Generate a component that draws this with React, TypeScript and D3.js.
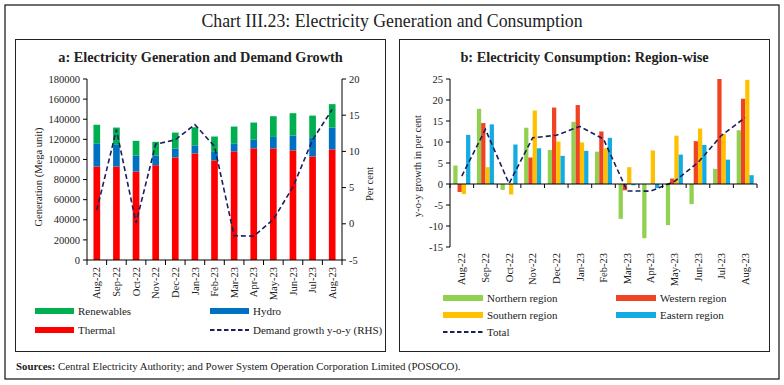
import * as d3 from "d3";
import * as React from "react";

const months = [
  "Aug-22", "Sep-22", "Oct-22", "Nov-22", "Dec-22", "Jan-23", "Feb-23",
  "Mar-23", "Apr-23", "May-23", "Jun-23", "Jul-23", "Aug-23",
];

// panel a: generation (mega unit)
const thermal = [93000, 93000, 88000, 94300, 102000, 106000, 99000, 108000, 111000, 111000, 109000, 103000, 110000];
const hydro = [23000, 21500, 16000, 9700, 9000, 8000, 8500, 8000, 9000, 11400, 14800, 19000, 21700];
const renewables = [18500, 17200, 14500, 13500, 15700, 18000, 15300, 16700, 16700, 20600, 22200, 21600, 23300];
const demandGrowth = [1.9, 13.0, 0.1, 11.0, 11.6, 13.7, 10.7, -1.65, -1.7, 0.6, 5.1, 11.6, 15.8];

// panel b: y-o-y growth by region
const regions = ["Northern region", "Western region", "Southern region", "Eastern region"];
const northern = [4.4, 17.9, -1.4, 13.4, 8.1, 14.8, 7.7, -8.3, -12.9, -9.8, -4.8, 3.6, 12.8];
const western = [-1.9, 14.5, 0, 6.3, 18.2, 18.8, 12.5, -1.5, 0, 1.3, 10.2, 25.0, 20.3];
const southern = [-2.4, 4.0, -2.5, 17.5, 10.1, 9.9, 8.5, 4.0, 8.0, 11.5, 13.2, 11.9, 24.8];
const eastern = [11.7, 14.2, 9.4, 8.5, 6.7, 7.9, 11.0, -0.3, -1.0, 7.0, 9.3, 5.8, 2.1];
const totalGrowth = demandGrowth;

const leftTicks = [0, 20000, 40000, 60000, 80000, 100000, 120000, 140000, 160000, 180000];
const rightTicks = [-5, 0, 5, 10, 15, 20];
const bTicks = [-15, -10, -5, 0, 5, 10, 15, 20, 25];

const FONT = "'Liberation Serif', 'DejaVu Serif', serif";
const LINE = "#1b1f5e";

function PanelA() {
  const x = d3.scaleBand<string>().domain(months).range([87, 342]);
  const yL = d3.scaleLinear().domain([0, 180000]).range([260, 79]);
  const yR = d3.scaleLinear().domain([-5, 20]).range([260, 79]);
  const bw = x.bandwidth() * 0.34;
  const cx = (m: string) => (x(m) as number) + x.bandwidth() / 2;
  const line = d3
    .line<number>()
    .x((d, i) => cx(months[i]))
    .y((d) => yR(d));

  const stacks = months.map((m, i) => [
    { key: "t", y0: 0, y1: thermal[i], c: "#ff0000" },
    { key: "h", y0: thermal[i], y1: thermal[i] + hydro[i], c: "#0070c0" },
    { key: "r", y0: thermal[i] + hydro[i], y1: thermal[i] + hydro[i] + renewables[i], c: "#00b050" },
  ]);

  return (
    <g>
      {stacks.map((s, i) =>
        s.map((p) => (
          <rect
            key={months[i] + p.key}
            x={cx(months[i]) - bw / 2}
            width={bw}
            y={yL(p.y1)}
            height={yL(p.y0) - yL(p.y1)}
            fill={p.c}
          />
        ))
      )}
      <path d={line(demandGrowth) || ""} fill="none" stroke={LINE} strokeWidth={1.6} strokeDasharray="5,3" />
      {/* left axis */}
      <line x1={87} x2={87} y1={79} y2={260} stroke="#000" />
      {leftTicks.map((t) => (
        <g key={"l" + t}>
          <line x1={83} x2={87} y1={yL(t)} y2={yL(t)} stroke="#000" />
          <text x={80} y={yL(t)} dy="0.35em" textAnchor="end" fontSize={10.5}>{t}</text>
        </g>
      ))}
      {/* right axis */}
      <line x1={342} x2={342} y1={79} y2={260} stroke="#000" />
      {rightTicks.map((t) => (
        <g key={"r" + t}>
          <line x1={342} x2={346} y1={yR(t)} y2={yR(t)} stroke="#000" />
          <text x={349} y={yR(t)} dy="0.35em" fontSize={10.5}>{t}</text>
        </g>
      ))}
      {/* x axis */}
      <line x1={87} x2={342} y1={260} y2={260} stroke="#000" />
      {months.map((m) => (
        <line key={"xt" + m} x1={x(m) as number} x2={x(m) as number} y1={260} y2={265} stroke="#000" />
      ))}
      <line x1={342} x2={342} y1={260} y2={265} stroke="#000" />
      {months.map((m) => (
        <text
          key={"xl" + m}
          transform={`translate(${cx(m)},267) rotate(-90)`}
          textAnchor="end"
          dy="0.35em"
          fontSize={10.5}
        >
          {m}
        </text>
      ))}
      <text transform="translate(38,177) rotate(-90)" textAnchor="middle" dy="0.35em" fontSize={10.5}>
        Generation  (Mega unit)
      </text>
      <text transform="translate(369,184) rotate(-90)" textAnchor="middle" dy="0.35em" fontSize={10.5}>
        Per cent
      </text>
      {/* legend */}
      <rect x={35} y={308} width={39} height={6} fill="#00b050" />
      <text x={78} y={311} dy="0.35em" fontSize={11}>Renewables</text>
      <rect x={210} y={308} width={39} height={6} fill="#0070c0" />
      <text x={253} y={311} dy="0.35em" fontSize={11}>Hydro</text>
      <rect x={35} y={327} width={39} height={6} fill="#ff0000" />
      <text x={78} y={330} dy="0.35em" fontSize={11}>Thermal</text>
      <line x1={210} x2={249} y1={330} y2={330} stroke={LINE} strokeWidth={1.8} strokeDasharray="4.5,2.5" />
      <text x={253} y={330} dy="0.35em" fontSize={11}>Demand growth y-o-y (RHS)</text>
    </g>
  );
}

function PanelB() {
  const x = d3.scaleBand<string>().domain(months).range([450, 757]);
  const inset = 3.3;
  const x1 = d3.scaleBand<string>().domain(regions).range([inset, x.bandwidth() - inset]);
  const y = d3.scaleLinear().domain([-15, 25]).range([247, 79]);
  const colors = ["#92d050", "#f04323", "#ffc000", "#13ace2"];
  const series = [northern, western, southern, eastern];
  const cx = (m: string) => (x(m) as number) + x.bandwidth() / 2;
  const line = d3
    .line<number>()
    .x((d, i) => cx(months[i]))
    .y((d) => y(d));

  return (
    <g>
      {series.map((vals, si) =>
        vals.map((v, i) => (
          <rect
            key={si + "-" + i}
            x={(x(months[i]) as number) + (x1(regions[si]) as number)}
            width={x1.bandwidth()}
            y={y(Math.max(0, v))}
            height={Math.abs(y(v) - y(0))}
            fill={colors[si]}
          />
        ))
      )}
      <path d={line(totalGrowth) || ""} fill="none" stroke={LINE} strokeWidth={1.6} strokeDasharray="5,3" />
      <line x1={450} x2={450} y1={79} y2={247} stroke="#000" />
      {bTicks.map((t) => (
        <g key={"b" + t}>
          <line x1={446} x2={450} y1={y(t)} y2={y(t)} stroke="#000" />
          <text x={443} y={y(t)} dy="0.35em" textAnchor="end" fontSize={10.5}>{t}</text>
        </g>
      ))}
      <line x1={450} x2={757} y1={y(0)} y2={y(0)} stroke="#000" />
      {months.map((m) => (
        <line key={"bt" + m} x1={x(m) as number} x2={x(m) as number} y1={y(0)} y2={y(0) + 4} stroke="#000" />
      ))}
      <line x1={757} x2={757} y1={y(0)} y2={y(0) + 4} stroke="#000" />
      {months.map((m) => (
        <text
          key={"bl" + m}
          transform={`translate(${cx(m)},253) rotate(-90)`}
          textAnchor="end"
          dy="0.35em"
          fontSize={10.5}
        >
          {m}
        </text>
      ))}
      <text transform="translate(417,166) rotate(-90)" textAnchor="middle" dy="0.35em" fontSize={10.5}>
        y-o-y growth in per cent
      </text>
      {/* legend */}
      <rect x={443} y={295} width={40} height={6} fill={colors[0]} />
      <text x={487} y={298} dy="0.35em" fontSize={11}>Northern region</text>
      <rect x={616} y={295} width={40} height={6} fill={colors[1]} />
      <text x={660} y={298} dy="0.35em" fontSize={11}>Western region</text>
      <rect x={443} y={312} width={40} height={6} fill={colors[2]} />
      <text x={487} y={315} dy="0.35em" fontSize={11}>Southern region</text>
      <rect x={616} y={312} width={40} height={6} fill={colors[3]} />
      <text x={660} y={315} dy="0.35em" fontSize={11}>Eastern region</text>
      <line x1={443} x2={483} y1={332} y2={332} stroke={LINE} strokeWidth={1.8} strokeDasharray="4.5,2.5" />
      <text x={487} y={332} dy="0.35em" fontSize={11}>Total</text>
    </g>
  );
}

export default function App() {
  return (
    <svg
      width={784}
      height={385}
      style={{ position: "absolute", left: 0, top: 0, background: "#fff" }}
      fontFamily={FONT}
      fill="#222"
    >
      <rect x={5} y={5} width={774} height={374} fill="none" stroke="#222" strokeWidth={1.3} />
      <text x={392} y={21} dy="0.35em" textAnchor="middle" fontSize={17.8} fill="#222">
        Chart III.23: Electricity Generation and Consumption
      </text>
      <rect x={15.5} y={39.5} width={370} height={312} fill="none" stroke="#222" />
      <rect x={399.5} y={39.5} width={370} height={312} fill="none" stroke="#222" />
      <text x={200.5} y={57} dy="0.35em" textAnchor="middle" fontSize={14.3} fontWeight="bold">
        a: Electricity Generation and Demand Growth
      </text>
      <text x={584.5} y={57} dy="0.35em" textAnchor="middle" fontSize={14.3} fontWeight="bold">
        b: Electricity Consumption: Region-wise
      </text>
      <PanelA />
      <PanelB />
      <text x={16} y={366} dy="0.35em" fontSize={10.8}>
        <tspan fontWeight="bold">Sources:</tspan> Central Electricity Authority; and Power System Operation
        Corporation Limited (POSOCO).
      </text>
    </svg>
  );
}
